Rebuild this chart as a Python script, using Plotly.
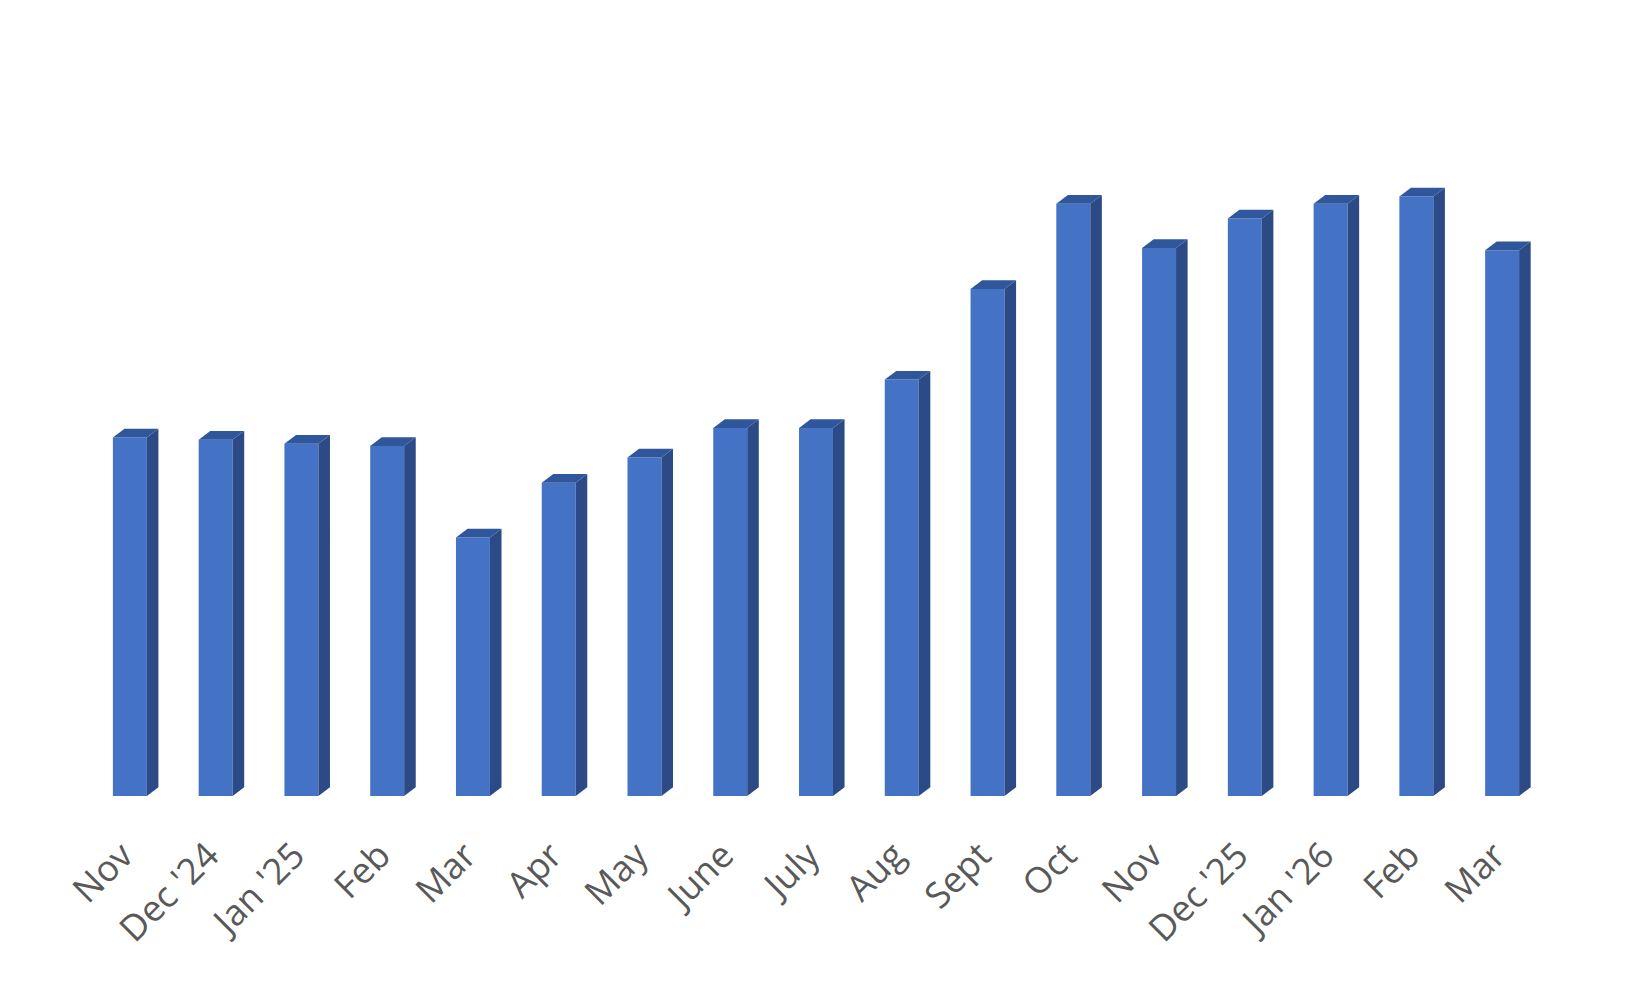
import plotly.graph_objects as go

months = ["Nov", "Dec '24", "Jan '25", "Feb", "Mar", "Apr", "May", "June",
          "July", "Aug", "Sept", "Oct", "Nov", "Dec '25", "Jan '26", "Feb", "Mar"]
values = [340.5, 338.5, 334.5, 332.5, 245.5, 297.5, 321.5, 349.5,
          349.5, 395.5, 481.5, 562.5, 520.5, 548.5, 562.5, 569.5, 518.5]

FRONT = "#4472C4"
SIDE = "#2C4B86"
TOP = "#30579C"
W = 0.396      # bar width in category units
DX = 0.135     # depth offset (x, category units)
DY = 8.3       # depth offset (y, value units)
LABEL_SHIFT = 0.085

xs = list(range(len(values)))

side_x, side_y, top_x, top_y = [], [], [], []
for x, v in zip(xs, values):
    r = x + W / 2
    l = x - W / 2
    side_x += [r, r + DX, r + DX, r, r, None]
    side_y += [0, DY, v + DY, v, 0, None]
    top_x += [l, l + DX, r + DX, r, l, None]
    top_y += [v, v + DY, v + DY, v, v, None]

fig = go.Figure()
fig.add_trace(go.Bar(x=xs, y=values, width=W, marker=dict(color=FRONT, line=dict(width=0)),
                     hoverinfo="skip"))
fig.add_trace(go.Scatter(x=side_x, y=side_y, fill="toself", fillcolor=SIDE, mode="lines",
                         line=dict(width=0, color=SIDE), hoverinfo="skip"))
fig.add_trace(go.Scatter(x=top_x, y=top_y, fill="toself", fillcolor=TOP, mode="lines",
                         line=dict(width=0, color=TOP), hoverinfo="skip"))

fig.update_layout(
    width=1650, height=990,
    margin=dict(l=79, r=113, t=92, b=202),
    paper_bgcolor="white", plot_bgcolor="white",
    showlegend=False,
    font=dict(family="Open Sans, Segoe UI, sans-serif", color="#595959"),
)
fig.update_xaxes(range=[-0.5, 16.5], tickmode="array",
                 tickvals=[x - LABEL_SHIFT for x in xs], ticktext=months,
                 tickangle=-45, tickfont=dict(size=36, color="#595959"),
                 showgrid=False, zeroline=False, showline=False, ticks="",
                 ticklabelstandoff=30, automargin=False)
fig.update_yaxes(range=[0, 661.1], showgrid=False, zeroline=False, showline=False,
                 showticklabels=False, ticks="", automargin=False)

fig.write_html("out.html")
